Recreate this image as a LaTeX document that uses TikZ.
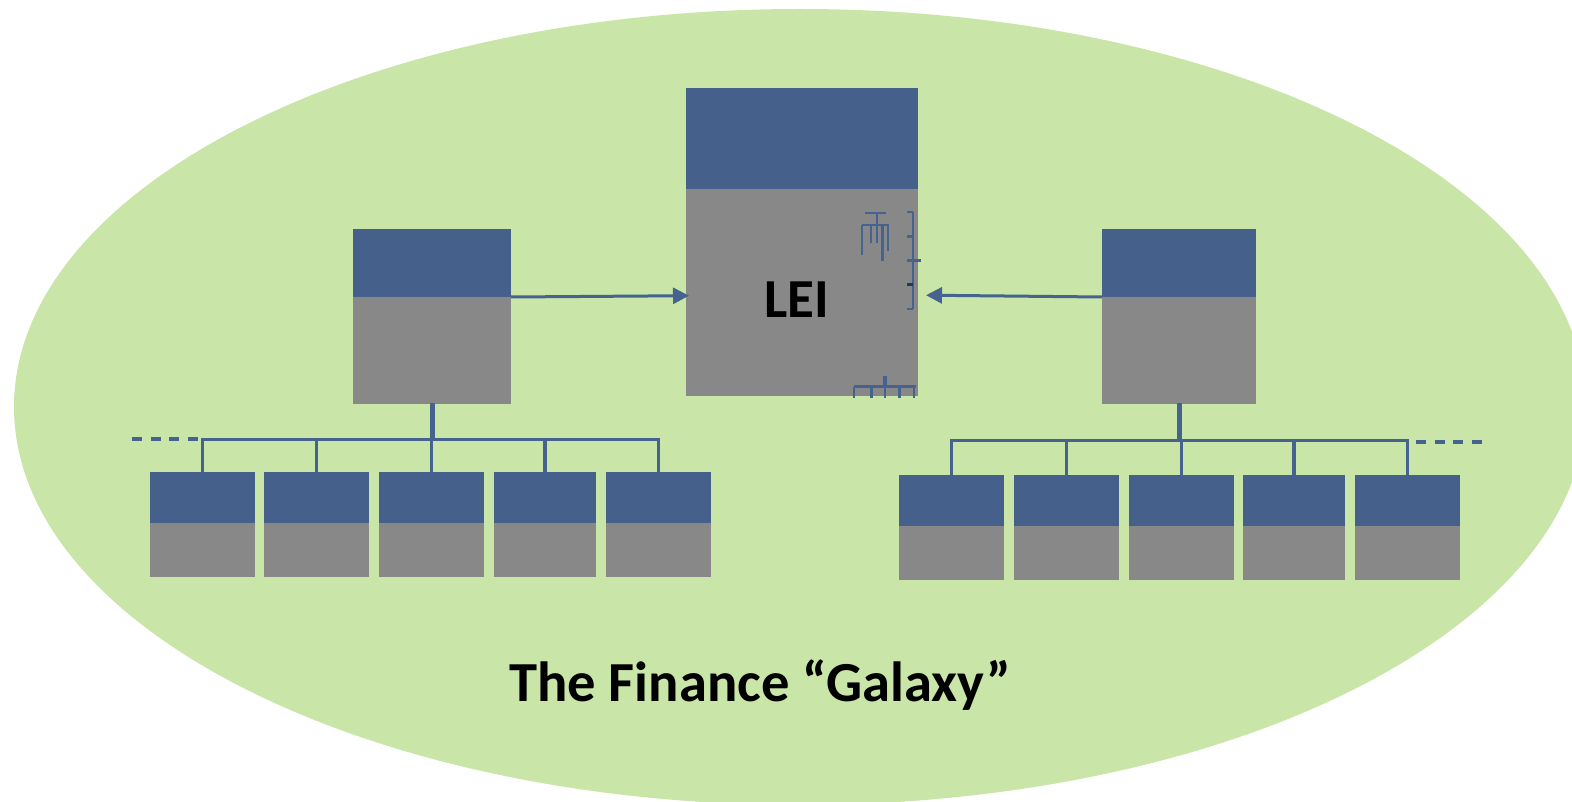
\documentclass[tikz,border=0pt]{standalone}
\usepackage{fontspec}
\setmainfont{Carlito}
\usetikzlibrary{arrows.meta}

\definecolor{galaxy}{HTML}{C9E5A7}
\definecolor{headblue}{HTML}{45618B}
\definecolor{bodygray}{HTML}{888888}
\definecolor{wire}{HTML}{46628F}
\definecolor{darkwire}{HTML}{1F3864}

% an entity: blue header cell over a gray body cell
% #1 name, #2 left, #3 right, #4 top, #5 split, #6 bottom
\newcommand{\entity}[6]{%
  \node[headcell, minimum width={#3-#2}, minimum height={#5-#4}] (#1) at (#2,#4) {};
  \node[bodycell, minimum width={#3-#2}, minimum height={#6-#5}] (#1b) at (#2,#5) {};
}

\begin{document}
\begin{tikzpicture}[x=1pt,y=-1pt,
  headcell/.style={fill=headblue, draw=none, inner sep=0pt, outer sep=0pt, anchor=north west},
  bodycell/.style={fill=bodygray, draw=none, inner sep=0pt, outer sep=0pt, anchor=north west},
  wirethin/.style={draw=wire, line width=3.2pt},
  wirestem/.style={draw=wire, line width=5pt},
  moreline/.style={draw=wire, line width=3.2pt, dash pattern=on 10pt off 8.5pt},
  feed/.style={draw=wire, line width=3pt, -{Triangle[length=16pt,width=16pt]}},
  glyph/.style={draw=wire, line width=2.6pt},
  leilabel/.style={font=\bfseries\fontsize{55}{55}\selectfont, anchor=base, inner sep=0pt},
  titlelabel/.style={font=\bfseries\fontsize{56.6}{56.6}\selectfont, anchor=base, inner sep=0pt},
]
\useasboundingbox (0,0) rectangle (1572,802);

% the galaxy
\begin{scope}
  \clip (0,0) rectangle (1572,802);
  \fill[galaxy] (800,407) ellipse [x radius=786, y radius=398];
\end{scope}

% central LEI entity and the two parent entities
\entity{lei}{686}{918}{88}{189.5}{396}
\entity{pl}{353}{511}{229.5}{297}{404}
\entity{pr}{1102}{1256}{229.5}{297}{404}

% left children
\entity{la}{150}{255}{472}{522.5}{577}
\entity{lb}{264}{369}{472}{522.5}{577}
\entity{lc}{379}{484}{472}{522.5}{577}
\entity{ld}{494}{596}{472}{522.5}{577}
\entity{le}{606}{711}{472}{522.5}{577}

% right children
\entity{ra}{899}{1004}{475}{525.5}{580}
\entity{rb}{1014}{1119}{475}{525.5}{580}
\entity{rc}{1129}{1234}{475}{525.5}{580}
\entity{rd}{1243}{1345}{475}{525.5}{580}
\entity{re}{1355}{1460}{475}{525.5}{580}

\node[leilabel] (leitext) at (796.5,317.5) {LEI};
\node[titlelabel] (title) at (760,701.7) {The Finance “Galaxy”};

% links to the LEI
\coordinate (tipl) at (689,295.7);
\coordinate (tipr) at (926,295.2);
\draw[feed] (pl.south east) -- (tipl);
\draw[feed] (pr.south west) -- (tipr);

% left hierarchy
\coordinate (busl) at (0,439.5);
\draw[wirestem] ([yshift=1pt]plb.south) -- (plb.south |- busl);
\draw[wirethin] ([xshift=-1.6pt]la.north |- busl) -- ([xshift=1.6pt]le.north |- busl);
\foreach \c in {la,lb,lc,ld,le}
  \draw[wirethin] (\c.north |- busl) -- (\c.north);
\coordinate (morel1) at (132,439);
\coordinate (morel2) at (200,439);
\draw[moreline] (morel1) -- (morel2);

% right hierarchy
\coordinate (busr) at (0,440.5);
\draw[wirestem] ([yshift=1pt]prb.south) -- (prb.south |- busr);
\draw[wirethin] ([xshift=-1.6pt]ra.north |- busr) -- ([xshift=1.6pt]re.north |- busr);
\foreach \c in {ra,rb,rc,rd,re}
  \draw[wirethin] (\c.north |- busr) -- (\c.north);
\coordinate (morer1) at (1416,442);
\coordinate (morer2) at (1484,442);
\draw[moreline] (morer1) -- (morer2);

% stray connector fragments on the LEI box
\draw[glyph] (865,213) -- (886,213);
\draw[glyph] (877,213) -- (877,243);
\draw[glyph] (862,225) -- (889,225);
\draw[glyph] (862,225) -- (862,255);
\draw[glyph] (871,225) -- (871,243);
\draw[glyph] (882.6,225) -- (882.6,261);
\draw[glyph] (888,225) -- (888,251);
\draw[glyph] (913,212) -- (913,309);
\draw[glyph] (907,212) -- (913,212);
\draw[glyph] (907,236.7) -- (913,236.7);
\draw[glyph] (907,260.7) -- (920.7,260.7);
\draw[glyph, draw=darkwire] (907,284.7) -- (913,284.7);
\draw[glyph] (907,309) -- (913,309);
\draw[glyph] (854,386.7) -- (916,386.7);
\draw[glyph, line width=3.4pt] (885,375.7) -- (885,386.7);
\foreach \t in {854,871.3,885,899.7,914}
  \draw[glyph] (\t,386.7) -- (\t,398);
\end{tikzpicture}
\end{document}
